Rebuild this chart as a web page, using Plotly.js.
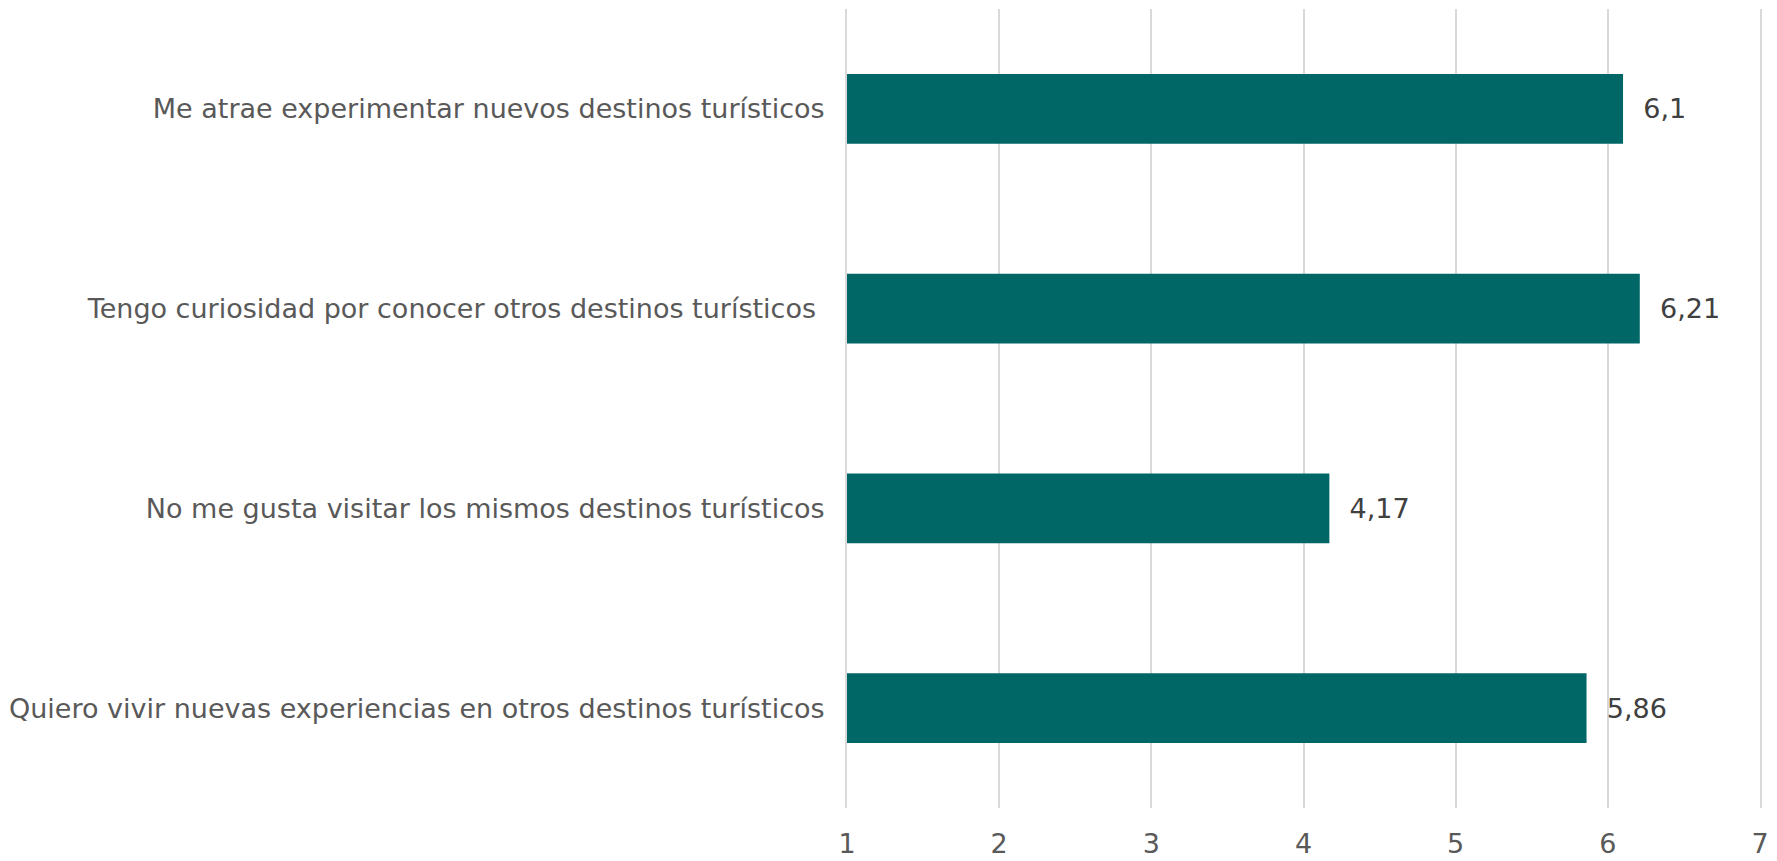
<!DOCTYPE html>
<html>
<head>
<meta charset="utf-8">
<script src="https://cdn.plot.ly/plotly-3.0.1.min.js"></script>
<style>html,body{margin:0;padding:0;background:#fff;}#chart{width:1777px;height:861px;}</style>
</head>
<body>
<div id="chart"></div>
<script>
const categories = [
  "Me atrae experimentar nuevos destinos turísticos",
  "Tengo curiosidad por conocer otros destinos turísticos ",
  "No me gusta visitar los mismos destinos turísticos",
  "Quiero vivir nuevas experiencias en otros destinos turísticos"
];
const values = [6.1, 6.21, 4.17, 5.86];
const tickValues = [1, 2, 3, 4, 5, 6, 7];

const labels = values.map(v => String(v).replace('.', ','));

const FONT = '"DejaVu Sans", "Liberation Sans", sans-serif';

const trace = {
  type: 'bar',
  orientation: 'h',
  y: categories,
  x: values,
  text: labels,
  texttemplate: '\u00a0\u00a0%{text}',
  textposition: 'outside',
  cliponaxis: false,
  textfont: {family: FONT, size: 27, color: '#404040'},
  marker: {color: '#006666', line: {width: 0}},
  hoverinfo: 'none'
};

const layout = {
  width: 1777,
  height: 861,
  margin: {l: 847, r: 17, t: 9, b: 53},
  paper_bgcolor: '#ffffff',
  plot_bgcolor: '#ffffff',
  showlegend: false,
  bargap: 0.65,
  separators: ',.',
  font: {family: FONT, size: 27, color: '#595959'},
  xaxis: {
    range: [1, 7],
    tickvals: tickValues,
    ticktext: tickValues.map(String),
    showgrid: true,
    gridcolor: '#d9d9d9',
    gridwidth: 2,
    zeroline: false,
    showline: false,
    ticks: '',
    ticklabelstandoff: 17,
    tickfont: {family: FONT, size: 27, color: '#595959'},
    fixedrange: true
  },
  yaxis: {
    autorange: 'reversed',
    type: 'category',
    showgrid: false,
    zeroline: false,
    showline: true,
    mirror: true,
    linecolor: '#d9d9d9',
    linewidth: 2,
    ticks: '',
    ticklabelstandoff: 15,
    tickfont: {family: FONT, size: 27, color: '#595959'},
    fixedrange: true
  }
};

Plotly.newPlot('chart', [trace], layout, {displayModeBar: false, staticPlot: true});
</script>
</body>
</html>
